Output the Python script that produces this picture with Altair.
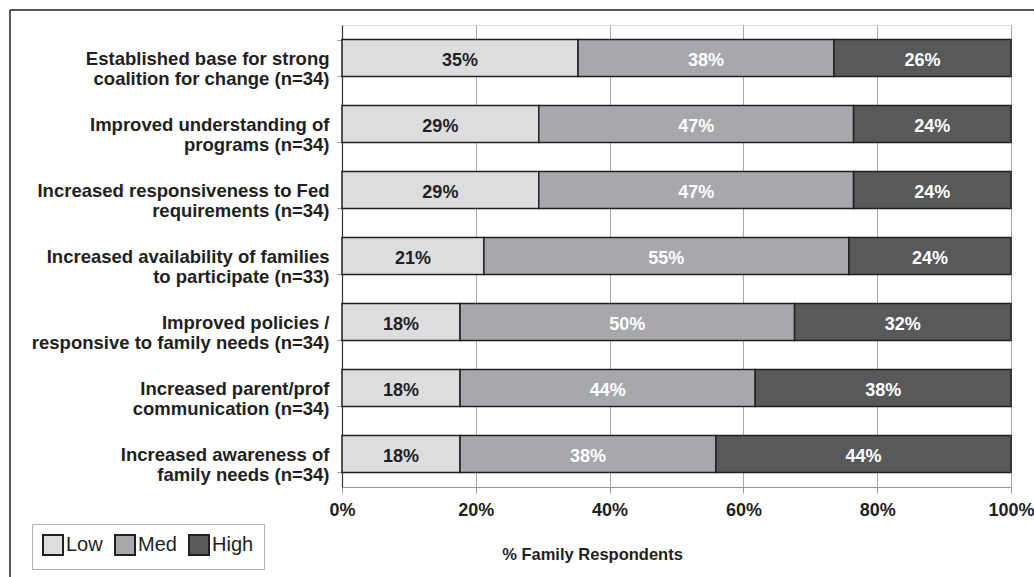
import altair as alt
import pandas as pd

categories = [
    "Established base for strong\ncoalition for change (n=34)",
    "Improved understanding of\nprograms (n=34)",
    "Increased responsiveness to Fed\nrequirements (n=34)",
    "Increased availability of families\nto participate (n=33)",
    "Improved policies /\nresponsive to family needs (n=34)",
    "Increased parent/prof\ncommunication (n=34)",
    "Increased awareness of\nfamily needs (n=34)",
]
levels = ["Low", "Med", "High"]
low = [35.29, 29.41, 29.41, 21.21, 17.65, 17.65, 17.65]
med = [38.24, 47.06, 47.06, 54.55, 50.00, 44.12, 38.24]
high = [26.47, 23.53, 23.53, 24.24, 32.35, 38.24, 44.12]
x_ticks = [0, 20, 40, 60, 80, 100]
fill_colors = ["#dcdddf", "#a7a8ab", "#58595b"]

rows = []
for i, c in enumerate(categories):
    for j, (lv, vals) in enumerate(zip(levels, [low, med, high])):
        rows.append({"cat": c, "level": lv, "order": j, "value": vals[i]})
df = pd.DataFrame(rows)

FONT = "Liberation Sans"
W, H = 669, 462

base = alt.Chart(df).transform_stack(
    stack="value", groupby=["cat"], as_=["v0", "v1"],
    sort=[alt.SortField("order", order="ascending")]
).transform_calculate(
    mid="(datum.v0 + datum.v1) / 2",
    lbl="format(datum.value, '.0f') + '%'"
)

yenc = alt.Y(
    "cat:N", sort=categories,
    scale=alt.Scale(paddingInner=0.44, paddingOuter=0.22),
    axis=alt.Axis(
        title=None, labelExpr="split(datum.label, '\\n')",
        labelFont=FONT, labelFontSize=18.5, labelFontWeight="bold",
        labelColor="#231f20", labelLineHeight=20, labelPadding=8,
        labelLimit=400, tickBand="extent", tickSize=5, tickColor="#999999",
        domainColor="#333333", domainWidth=1.2, grid=False,
    ),
)

bars = base.mark_bar(stroke="#231f20", strokeWidth=1.5).encode(
    y=yenc,
    x=alt.X(
        "v0:Q", scale=alt.Scale(domain=[0, 100], nice=False),
        axis=alt.Axis(
            values=x_ticks, labelExpr="datum.value + '%'",
            title="% Family Respondents", titleFont=FONT,
            titleFontSize=16.5, titleFontWeight="bold", titleColor="#231f20",
            titleX=250, titleY=72, titleAlign="center", titleBaseline="alphabetic",
            labelFont=FONT, labelFontSize=18, labelFontWeight="bold",
            labelColor="#231f20", labelPadding=8, tickSize=6,
            tickColor="#999999", domainColor="#999999", grid=True,
            gridColor="#aaaaaa", gridWidth=1, labelFlush=False,
        ),
    ),
    x2="v1:Q",
    color=alt.Color(
        "level:N", scale=alt.Scale(domain=levels, range=fill_colors),
        legend=alt.Legend(
            title=None, orient="none", direction="horizontal",
            legendX=-310, legendY=499, symbolType="square", symbolSize=400,
            symbolStrokeColor="#231f20", symbolStrokeWidth=2,
            labelFont=FONT, labelFontSize=20, labelColor="#231f20",
            labelOffset=2, columnPadding=8, padding=10,
            strokeColor="#b0b0b0", fillColor="white",
        ),
    ),
)

texts = base.mark_text(font=FONT, fontSize=18, fontWeight="bold", dy=3).encode(
    y=alt.Y("cat:N", sort=categories),
    x=alt.X("mid:Q"),
    text="lbl:N",
    color=alt.condition("datum.level == 'Low'", alt.value("#231f20"), alt.value("#ffffff")),
)

frame_df = pd.DataFrame({"k": [0]})
top_line = alt.Chart(frame_df).mark_rule(color="#231f20", strokeWidth=1.5).encode(
    x=alt.value(-332), x2=alt.value(692), y=alt.value(-15)
)
left_line = alt.Chart(frame_df).mark_rule(color="#231f20", strokeWidth=1.5).encode(
    x=alt.value(-332), y=alt.value(-15), y2=alt.value(553)
)

chart = alt.layer(bars, texts, top_line, left_line).properties(
    width=W, height=H,
    autosize=alt.AutoSizeParams(type="none"),
    padding={"left": 342, "top": 25, "right": 23, "bottom": 90},
).configure_view(stroke="#b0b0b0", strokeWidth=1).configure(background="white")

chart.save("out.html", embed_options={"renderer": "svg", "actions": False})
